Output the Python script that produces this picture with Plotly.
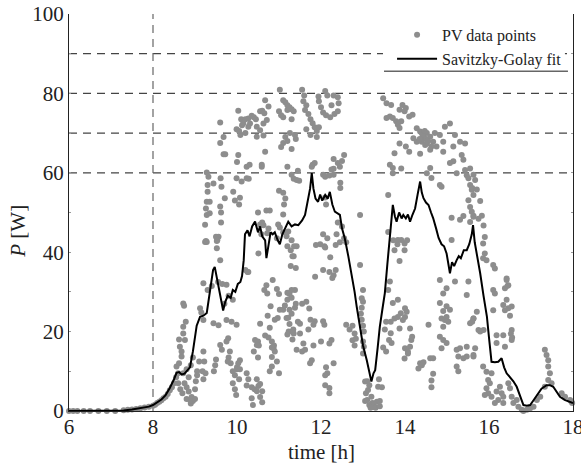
import plotly.graph_objects as go

# ---- PV data points (time [h], power [W]), grouped by region ----
pv_night = [(6.0,0),(6.1,0),(6.2,0),(6.35,0),(6.5,0),(6.7,0),(6.9,0),(7.1,0),(7.3,0.2),(7.4,0.3),
            (7.5,0.4),(7.6,0.5),(7.7,0.7),(7.8,0.9),(7.9,1.1),(8.0,1.3),(8.05,1.6),(8.1,2.0),(8.15,2.3),
            (8.2,2.7),(8.25,3.2),(8.3,3.6),(8.35,4.3),(8.4,5.2),(8.45,6.0),(8.5,7.0),(8.55,8.5)]

pv_morning = [(8.56,11.2),(8.6,9.5),(8.62,12.0),(8.64,16.2),(8.68,13.7),(8.72,21.2),(8.72,19.5),(8.72,27.1),
              (8.74,26.5),(8.76,17.9),(8.72,9.5),(8.6,7.0),(8.65,5.5),(8.7,4.5),(8.75,7.0),(8.8,6.0),(8.8,3.0),
              (8.85,4.9),(8.88,2.8),(8.9,1.9),(8.92,3.5),(8.95,2.5),(8.85,8.5),(8.8,10.5),(8.9,11.5),(8.95,13.5),
              (9.0,3.0),(9.0,5.5),(9.02,7.5),(9.05,10.0),(9.1,12.5),(8.68,15.0),(8.62,18.0),(8.78,22.5),(9.05,9.0),
              (9.12,25.9),(9.15,24.8),(9.2,22.9),(9.2,15.0),(9.22,12.5),(9.18,10.0),(9.2,8.0),(9.25,9.5),(9.3,30.5),
              (9.2,32.2),(9.44,22.1),(9.56,21.6),(9.5,13.0),(9.48,11.5),(9.45,10.0),(9.6,16.6),(9.64,15.4),(9.75,22.9),
              (9.87,22.5),(9.99,21.7),(9.79,18.3),(9.75,17.5),(9.83,15.0),(9.8,13.5),(9.85,12.0),(9.78,12.5),(9.9,10.0),
              (9.95,9.0),(9.9,7.0),(9.95,5.5),(9.98,4.0),(10.05,8.0),(10.0,10.5),(10.0,11.0),(9.7,27.0),(9.8,29.0),
              (9.9,28.0),(9.65,32.0),(9.4,31.5),(9.55,32.5),(9.75,31.8),(9.6,38.0),(9.52,41.0),(9.56,43.9),(9.24,42.6),
              (9.28,42.6),(9.53,43.0)]

pv_morning_high = [(9.28,60.1),(9.32,59.0),(9.3,56.9),(9.3,55.2),(9.28,52.7),(9.35,52.7),(9.26,51.0),(9.28,49.4),
                   (9.35,49.8),(9.62,50.0),(9.62,47.5),(9.24,46.9),(9.26,42.8),(9.5,43.9),(9.52,42.8),(9.61,58.6),
                   (9.44,57.3),(9.63,56.5),(9.71,53.6),(9.6,51.5),(9.6,72.7),(9.6,67.5),(9.68,69.0),(9.68,64.7),
                   (9.72,64.7),(9.91,55.2),(10.07,53.7),(10.11,57.8),(10.03,64.5),(10.0,62.7),(9.99,58.6),(10.23,58.6),
                   (9.95,53.0),(10.05,52.0),(10.23,61.5),(10.59,61.5)]

pv_noon_high = [(10.03,75.6),(10.1,73.5),(10.12,72.0),(10.08,69.5),(9.99,71.0),(10.05,70.5),(10.15,72.5),(10.2,73.5),
                (10.27,73.7),(10.35,74.4),(10.4,74.0),(10.45,73.5),(10.6,75.6),(10.55,75.5),(10.67,78.3),(10.75,76.7),
                (10.65,75.0),(10.31,72.4),(10.47,71.6),(10.63,72.4),(10.71,73.3),(10.55,70.7),(10.63,69.4),(10.47,69.1),
                (10.27,71.6),(10.2,70.0),(10.67,65.3),(10.59,62.0),(10.3,62.0),(10.28,58.5),(11.02,80.9),(11.1,78.3),
                (11.15,77.8),(11.0,75.5),(11.05,74.5),(11.1,74.0),(11.38,69.5),(11.15,69.0),(11.1,67.5),(11.05,66.5),
                (11.2,77.0),(11.3,76.0),(11.35,75.5),(11.3,73.5),(11.26,70.0),(11.2,68.0),(11.4,68.5),(11.3,66.0),
                (11.55,80.9),(11.6,79.5),(11.58,78.0),(11.65,77.0),(11.62,75.8),(11.7,74.8),(11.75,73.5),(11.8,72.5),
                (11.85,71.5),(11.65,71.0),(11.9,70.5),(11.95,71.5),(11.75,69.5),(11.9,69.0),(12.1,80.6),(12.15,79.5),
                (11.95,78.0),(12.0,76.5),(12.05,75.2),(12.12,74.5),(12.22,74.0),(12.32,74.8),(12.4,75.5),(12.42,77.5),
                (12.4,79.0),(12.3,79.5),(12.25,77.0),(11.2,75.8),(11.25,76.5),(11.94,79.2)]

pv_noon_mid = [(12.3,63.5),(12.4,62.5),(12.45,61.5),(12.5,63.0),(12.55,64.5),(11.8,62.0),(11.85,62.5),(11.78,61.5),
               (12.3,61.0),(12.25,60.8),(11.3,59.5),(11.35,58.5),(11.42,58.2),(11.48,58.0),(11.45,60.5),(11.2,61.5),
               (12.05,59.5),(12.1,59.0),(12.2,59.3),(12.3,59.5),(12.46,57.5),(12.46,56.2),(11.0,55.5),(11.15,53.5),
               (12.1,53.8),(12.12,52.0),(11.1,55.0),(11.12,52.0),(11.1,49.5),(10.7,50.5),(10.5,50.0),(10.78,50.5),
               (10.6,47.5),(10.55,47.0),(10.63,46.8),(10.75,46.0),(10.58,44.5),(10.72,44.8),(10.98,47.0),(11.02,46.2),
               (11.1,45.0),(11.18,44.0),(11.22,45.2),(10.95,43.5),(12.4,47.5),(12.5,46.5),(12.05,44.5),(12.15,43.5),
               (11.98,42.0),(12.08,41.5),(12.35,41.8),(12.37,44.5),(12.55,43.5),(12.6,42.5)]

pv_noon_low = [(10.51,39.7),(10.27,35.0),(11.2,41.5),(11.28,40.5),(11.42,41.5),(11.35,39.0),(11.28,36.5),(11.4,36.0),
               (11.86,33.8),(11.88,41.8),(12.1,41.2),(12.22,38.7),(12.05,35.5),(12.2,35.0),(12.3,34.2),(12.35,35.5),
               (12.27,33.5),(12.45,42.5),(10.95,30.7),(11.0,29.5),(10.85,33.0),(10.8,26.4),(11.02,25.5),(11.1,25.5),
               (10.97,23.4),(11.18,23.4),(11.25,25.5),(11.3,24.5),(11.38,26.0),(11.4,27.0),(11.3,28.5),(11.38,30.5),
               (11.45,22.5),(11.5,22.0),(11.55,27.0),(11.65,27.5),(11.72,25.8),(11.75,23.0),(11.85,22.6),(11.82,21.7),
               (12.05,22.6),(12.08,21.7),(12.0,17.5),(12.2,17.0),(11.23,20.0),(11.35,19.5),(11.5,19.5),(11.42,15.4),
               (11.62,15.4),(11.58,17.0),(11.82,16.5),(11.78,12.8),(11.74,12.0),(11.7,20.5),(11.55,15.0),(10.67,19.0),
               (10.83,17.5),(10.87,15.8),(10.9,15.0),(10.83,13.6),(10.95,12.5),(10.83,11.2),(10.78,10.0),(11.0,9.5),
               (10.88,16.5),(10.4,15.0),(10.5,13.5),(12.25,17.9),(12.3,12.0),(12.15,9.5),(12.2,5.8),(12.2,4.5),
               (12.6,21.7),(12.68,20.5),(12.75,21.5),(12.8,19.5),(12.83,18.2),(12.75,17.8),(12.8,16.5),(10.35,6.0),
               (10.42,5.5),(10.55,6.8),(10.6,5.0),(10.55,3.5),(10.6,2.2),(10.35,3.2),(10.38,1.5),(10.65,30.5),
               (10.7,31.7),(10.72,29.6),(10.73,24.0),(10.9,23.0),(10.78,21.0),(10.75,18.5),(10.83,16.0),(10.55,22.0),
               (10.5,17.5),(10.52,16.5),(10.2,35.5),(10.25,35.0),(11.2,28.0),(11.25,29.5),(11.3,30.5),(11.32,18.0),
               (11.34,20.5),(11.3,43.0),(11.32,39.0),(11.36,41.5),(10.23,9.5),(10.27,8.0),(10.23,6.4),(10.47,8.0),
               (10.51,6.3),(10.47,5.0),(10.07,12.8),(10.03,12.0),(10.07,10.5),(10.43,17.9),(10.47,16.6),(11.14,26.6),
               (11.2,29.8),(11.22,23.5),(11.2,19.3),(11.25,21.9),(12.1,6.5),(12.1,9.0),(12.12,11.0)]

pv_dip = [(12.93,49.4),(12.93,36.8),(13.0,30.5),(12.97,28.4),(13.0,27.5),(12.97,26.0),(12.95,24.5),(12.97,23.0),
          (13.0,21.5),(13.02,20.0),(13.0,17.5),(13.02,16.2),(13.0,14.5),(13.05,2.5),(13.05,7.4),(13.07,4.5),(13.1,2.8),
          (13.12,5.3),(13.15,1.5),(13.18,0.8),(13.2,3.6),(13.22,2.0),(13.25,1.0),(13.26,1.9),(13.3,0.8),(13.33,2.3),
          (13.36,6.1),(13.4,1.2),(13.1,7.5),(13.15,6.5),(13.38,8.0),(13.45,6.0),(13.4,2.5)]

pv_afternoon_low = [(13.64,32.6),(13.6,30.5),(13.83,28.0),(13.71,27.2),(14.0,25.9),(14.04,25.0),(13.9,24.6),(13.83,23.7),
                    (14.0,23.7),(13.95,22.9),(13.87,20.8),(13.75,23.3),(13.66,22.5),(13.62,17.9),(13.68,17.1),(13.66,19.6),
                    (13.55,22.5),(13.52,20.5),(13.48,16.0),(13.55,15.0),(14.12,20.8),(14.17,18.7),(14.15,17.9),(14.12,16.2),
                    (14.0,15.8),(14.07,14.9),(13.99,13.2),(14.07,14.5),(13.72,43.0),(13.82,42.0),(13.99,40.5),(13.99,42.2),
                    (13.87,37.8),(13.75,40.5),(14.05,43.0),(14.36,12.0),(14.32,10.7),(14.4,11.5),(14.44,12.3),(14.67,9.4),
                    (14.63,7.7),(14.63,6.0),(14.6,13.3),(14.67,13.3),(14.56,21.7),(14.83,33.0),(14.99,30.9),(15.19,32.6),
                    (14.91,29.6),(14.83,27.2),(14.99,26.4),(14.91,25.2),(15.07,25.5),(14.87,23.3),(14.95,22.9),(15.03,22.5),
                    (14.99,23.7),(14.91,21.2),(14.83,18.7),(14.91,17.9),(14.87,15.8),(14.99,17.1),(15.23,15.4),(15.31,15.8),
                    (15.47,16.2),(15.27,13.7),(15.39,13.3),(15.47,13.7),(15.23,11.2),(15.27,10.0),(15.63,14.1),(15.51,32.6),
                    (15.47,29.2),(15.55,22.1),(15.63,23.3)]

pv_afternoon_high = [(13.48,78.8),(13.56,77.5),(13.67,77.1),(13.94,77.1),(14.02,76.3),(13.99,75.5),(13.87,75.9),(13.64,74.2),
                     (13.56,73.8),(13.71,73.8),(13.79,73.0),(13.91,73.0),(14.1,74.2),(14.18,74.6),(13.83,72.1),(13.87,71.3),
                     (14.28,71.2),(14.36,70.4),(14.4,70.0),(14.52,70.0),(14.6,69.1),(14.2,68.7),(14.28,67.8),(14.4,67.8),
                     (14.52,67.4),(14.67,67.8),(14.71,70.0),(14.83,69.5),(14.95,71.6),(15.07,72.4),(14.48,67.0),(14.63,66.6),
                     (14.75,66.6),(14.91,67.8),(14.6,65.8),(14.45,69.0),(14.5,68.5),(14.42,69.5),(14.55,68.0),(14.35,68.5),
                     (14.47,70.5),(13.87,67.4),(14.02,66.6),(14.1,65.3),(13.75,64.9),(14.36,64.8),(15.19,69.5),(15.31,67.8),
                     (15.43,67.4),(15.15,66.6),(14.91,65.3),(15.35,64.5),(15.39,63.3),(15.15,62.9),(15.07,62.5),(13.64,62.0),
                     (13.71,61.2),(13.91,61.1),(13.71,59.9),(14.6,61.2),(14.63,58.7),(14.52,59.9),(15.23,59.9),(15.43,60.7),
                     (15.47,59.4),(15.51,58.6),(15.55,56.9),(15.59,55.7),(15.63,54.4),(15.51,53.1),(15.55,51.4),(15.59,50.2),
                     (15.63,48.9),(15.55,47.6),(14.83,56.9),(14.87,56.5),(13.6,54.4),(15.11,48.7),(15.39,49.1),(15.31,48.2),
                     (13.6,45.1),(13.83,43.1),(13.91,43.1),(15.11,43.1),(15.55,61.1),(15.63,59.5),(15.67,58.2),(15.6,56.2),
                     (15.71,55.8),(15.79,52.9),(15.63,49.2),(15.75,48.4),(15.83,49.2),(15.87,46.7),(15.9,43.8)]

pv_evening = [(15.86,42.2),(15.9,39.7),(15.86,38.5),(15.94,38.0),(16.1,36.8),(16.14,35.9),(16.42,33.4),(16.46,31.7),
              (16.38,30.9),(16.1,30.5),(16.14,29.6),(16.1,25.4),(16.42,28.0),(16.34,26.7),(16.46,25.9),(16.54,26.3),
              (16.38,25.4),(15.71,25.0),(15.63,23.3),(15.6,22.5),(15.75,20.4),(15.79,20.0),(15.87,20.4),(16.18,19.1),
              (16.34,19.1),(16.54,20.4),(16.54,17.9),(16.38,16.2),(16.18,17.1),(15.67,15.8),(15.63,13.7),(15.86,11.2),
              (15.94,9.9),(16.06,9.5),(15.98,7.8),(16.02,7.0),(15.94,5.7),(15.98,4.5),(15.9,4.0),(16.06,3.6),
              (16.18,4.9),(16.22,2.8),(16.14,2.0),(16.26,6.1),(16.3,4.5),(16.34,3.6),(16.34,2.0),(16.46,7.0),
              (16.5,5.7),(16.54,3.6),(16.58,2.0),(16.66,2.8),(16.7,1.1),(16.78,0.3),(16.82,0.0),(16.9,0.3),
              (16.98,0.7),(17.06,1.1),(17.33,15.4),(17.37,14.1),(17.41,12.8),(17.41,11.2),(17.45,9.5),(17.41,7.8),
              (17.49,7.0),(17.33,6.1),(17.73,4.5),(17.81,3.6),(17.93,2.8),(17.98,2.0),(17.96,2.4),(17.14,2.8),
              (17.22,3.6),(16.42,33.0),(16.44,31.5),(16.5,24.0),(16.52,19.5),(16.55,18.5)]

# ---- Savitzky-Golay fit (time [h], power [W]) ----
sg_fit = [(6.0,0),(6.5,0),(7.0,0),(7.3,0.1),(7.5,0.4),(7.7,0.7),(7.9,1.1),(8.0,1.5),(8.1,2.1),(8.2,2.9),(8.3,4.0),
          (8.4,5.8),(8.5,8.0),(8.56,9.6),(8.62,9.8),(8.68,9.2),(8.75,9.4),(8.82,10.3),(8.88,11.0),(8.95,15.0),
          (9.04,21.5),(9.12,23.7),(9.2,24.0),(9.28,24.7),(9.35,30.0),(9.43,35.5),(9.47,36.3),(9.52,33.5),(9.6,28.5),
          (9.67,25.3),(9.72,27.5),(9.78,29.0),(9.85,28.5),(9.9,30.5),(9.96,30.0),(10.02,32.0),(10.08,32.5),(10.12,34.0),
          (10.16,38.0),(10.19,44.5),(10.25,45.5),(10.3,44.0),(10.36,46.5),(10.43,47.7),(10.5,45.0),(10.55,46.5),
          (10.6,44.0),(10.67,43.0),(10.7,38.5),(10.75,42.0),(10.8,45.0),(10.85,44.5),(10.9,45.0),(10.97,43.0),
          (11.02,42.0),(11.08,44.5),(11.15,46.0),(11.22,47.7),(11.3,46.5),(11.38,47.0),(11.46,46.8),(11.55,48.0),
          (11.62,49.4),(11.68,53.0),(11.74,56.0),(11.78,59.9),(11.82,56.0),(11.87,53.5),(11.93,52.7),(11.98,54.5),
          (12.03,53.0),(12.1,54.4),(12.16,53.5),(12.21,55.2),(12.27,52.0),(12.33,50.2),(12.4,49.6),(12.45,49.4),
          (12.5,46.0),(12.57,43.3),(12.65,39.0),(12.73,34.7),(12.8,30.0),(12.85,26.3),(12.93,20.5),(13.0,16.5),
          (13.09,12.8),(13.15,9.5),(13.2,7.4),(13.25,9.5),(13.29,10.3),(13.35,16.0),(13.4,21.2),(13.46,25.5),
          (13.52,29.7),(13.58,37.0),(13.64,43.3),(13.68,48.0),(13.71,51.9),(13.76,49.0),(13.8,47.7),(13.86,50.0),
          (13.92,48.5),(13.96,49.4),(14.02,48.5),(14.07,49.5),(14.12,47.7),(14.18,49.5),(14.24,51.0),(14.3,54.5),
          (14.36,57.8),(14.4,55.0),(14.44,53.6),(14.5,52.5),(14.56,51.9),(14.62,50.0),(14.67,48.6),(14.74,46.0),
          (14.8,43.6),(14.87,42.0),(14.93,41.5),(14.99,39.7),(15.03,36.5),(15.07,34.7),(15.12,37.5),(15.17,36.5),
          (15.23,38.0),(15.28,39.0),(15.33,38.5),(15.4,40.5),(15.47,40.5),(15.53,42.0),(15.59,44.5),(15.62,46.8),
          (15.66,42.5),(15.72,39.0),(15.79,34.7),(15.87,29.0),(15.95,23.8),(16.0,18.5),(16.06,12.4),(16.14,12.3),
          (16.22,12.4),(16.3,13.3),(16.36,11.0),(16.42,9.5),(16.5,8.5),(16.58,7.5),(16.66,6.1),(16.74,3.5),
          (16.82,1.5),(16.9,1.3),(16.98,1.5),(17.06,2.7),(17.14,4.0),(17.25,5.6),(17.37,6.5),(17.45,6.5),
          (17.53,6.1),(17.61,4.9),(17.69,3.6),(17.8,2.8),(17.93,2.3),(18.0,2.0)]

x_ticks = [6, 8, 10, 12, 14, 16, 18]
y_ticks = [0, 20, 40, 60, 80, 100]
h_ref_levels = [60, 70, 80, 90]
v_ref_time = 8

pv_all = (pv_night + pv_morning + pv_morning_high + pv_noon_high + pv_noon_mid +
          pv_noon_low + pv_dip + pv_afternoon_low + pv_afternoon_high + pv_evening)
pv_time = [p[0] for p in pv_all]
pv_power = [p[1] for p in pv_all]
fit_time = [p[0] for p in sg_fit]
fit_power = [p[1] for p in sg_fit]

FONT = "'Liberation Serif', 'Times New Roman', 'DejaVu Serif', serif"
TXT = "#222222"

fig = go.Figure()
fig.add_trace(go.Scatter(x=pv_time, y=pv_power, mode="markers", name="PV data points",
                         marker=dict(color="#8d8d8d", size=6, line=dict(width=0)),
                         cliponaxis=False))
fig.add_trace(go.Scatter(x=fit_time, y=fit_power, mode="lines", name="Savitzky-Golay fit",
                         line=dict(color="black", width=2), cliponaxis=False))

shapes = []
for lvl in h_ref_levels:
    shapes.append(dict(type="line", xref="x", yref="y", x0=6, x1=18, y0=lvl, y1=lvl,
                       line=dict(color="#444444", width=1.2, dash="8px,6px"), layer="below"))
shapes.append(dict(type="line", xref="x", yref="y", x0=v_ref_time, x1=v_ref_time, y0=0, y1=100,
                   line=dict(color="#666666", width=1.2, dash="8px,6px"), layer="below"))
# white background behind the legend and the line under it
shapes.append(dict(type="rect", xref="paper", yref="paper", x0=0.623, x1=0.984, y0=0.866, y1=0.982,
                   fillcolor="white", line=dict(width=0), layer="above"))
shapes.append(dict(type="line", xref="paper", yref="paper", x0=0.625, x1=0.99, y0=0.856, y1=0.856,
                   line=dict(color="#666666", width=1.5), layer="above"))

fig.update_layout(
    width=581, height=469,
    margin=dict(l=69, r=8, t=14, b=58, autoexpand=False),
    paper_bgcolor="white", plot_bgcolor="white",
    font=dict(family=FONT, size=21, color=TXT),
    showlegend=True,
    legend=dict(x=0.641, y=0.99, xanchor="left", yanchor="top", bgcolor="rgba(0,0,0,0)",
                borderwidth=0, font=dict(family=FONT, size=16, color=TXT), itemwidth=40),
    shapes=shapes,
    annotations=[
        dict(text="time [h]", xref="paper", yref="paper", x=0.5, y=-0.103, showarrow=False,
             xanchor="center", yanchor="middle", font=dict(family=FONT, size=21, color=TXT)),
        dict(text="<i>P</i> [W]", xref="paper", yref="paper", x=-0.1, y=0.453, showarrow=False,
             textangle=-90, xanchor="center", yanchor="middle", font=dict(family=FONT, size=21, color=TXT)),
    ],
)
fig.update_xaxes(range=[6, 18], tickvals=x_ticks, ticktext=[str(v) for v in x_ticks],
                 showgrid=False, zeroline=False, showline=True, linecolor="#222222", linewidth=1,
                 ticks="", ticklabeloverflow="allow", ticklabelstandoff=-3,
                 tickfont=dict(family=FONT, size=21, color=TXT))
fig.update_yaxes(range=[0, 100], tickvals=y_ticks, ticktext=[str(v) for v in y_ticks],
                 showgrid=False, zeroline=False, showline=True, linecolor="#222222", linewidth=1,
                 ticks="inside", ticklen=2, tickcolor="#999999", mirror="ticks",
                 minor=dict(dtick=10, ticks="inside", ticklen=2, tickcolor="#999999"),
                 tickfont=dict(family=FONT, size=21, color=TXT))

fig.write_html("out.html")
